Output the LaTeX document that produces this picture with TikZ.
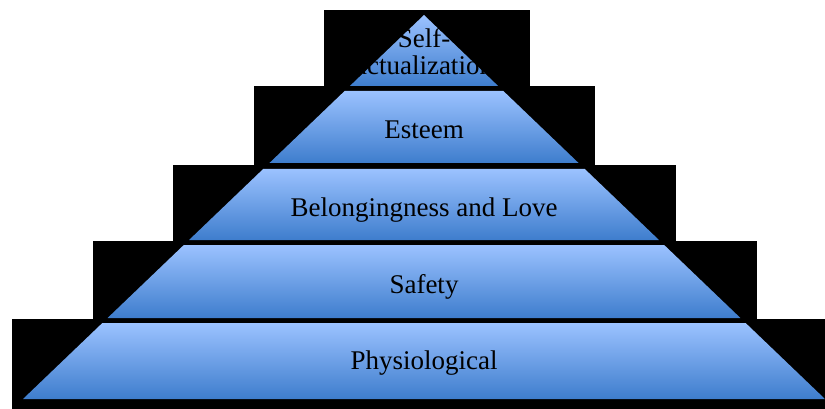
\documentclass[tikz,border=0pt]{standalone}
\usepackage{fontspec}
\setmainfont{Liberation Serif}
\usetikzlibrary{calc,positioning}
\definecolor{tiertop}{RGB}{155,194,255}
\definecolor{tierbot}{RGB}{62,125,205}
\tikzset{
  tier/.style={top color=tiertop,bottom color=tierbot,draw=none},
  backbox/.style={fill=black,draw=none},
  tierlabel/.style={font=\fontsize{27}{27}\selectfont,inner sep=0pt,align=center}
}

\begin{document}
\begin{tikzpicture}[x=1pt,y=-1pt]
\useasboundingbox (0,0) rectangle (825,409);

%black boxes behind the levels
\foreach \l/\t/\r/\b in {324/10/530/86,254/86/595/165,173/165/676/241,93/241/757/319,12/319/825/409}
  \fill[backbox] (\l,\t) rectangle (\r,\b);

%levels, apex at (424,15)
\foreach \t/\b in {15/86,91/163,169/240,245/318,323/399}{
  \pgfmathsetmacro{\wt}{(\t-15)*1.0443}
  \pgfmathsetmacro{\wb}{(\b-15)*1.0443}
  \shade[tier] (424-\wt,\t) -- (424+\wt,\t) -- (424+\wb,\b) -- (424-\wb,\b) -- cycle;
}

%labels
\node[tierlabel] (selfact) at (424,52) {Self-\\actualization};
\node[tierlabel,anchor=base] (esteem) at (424,139) {Esteem};
\node[tierlabel,anchor=base] (belong) at (424,216) {Belongingness and Love};
\node[tierlabel,anchor=base] (safety) at (424,293) {Safety};
\node[tierlabel,anchor=base] (physio) at (424,369) {Physiological};

\end{tikzpicture}
\end{document}
